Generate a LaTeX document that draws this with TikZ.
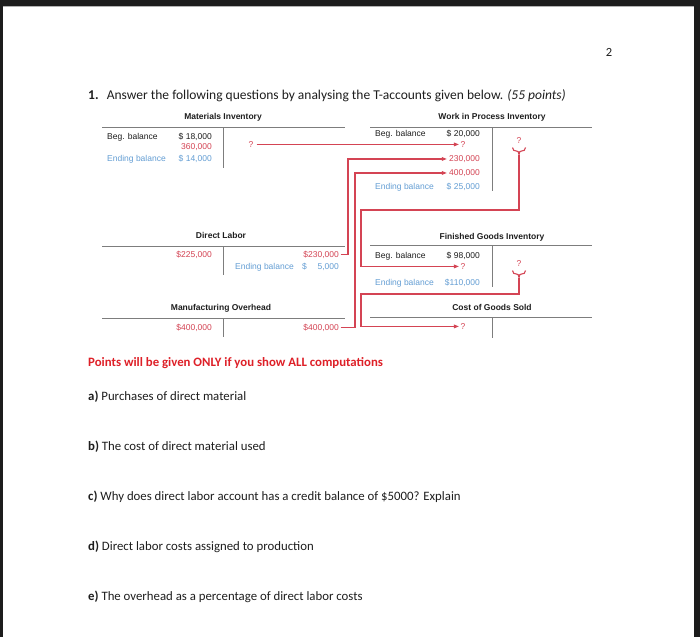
\documentclass[tikz,border=0pt]{standalone}
\usepackage{fontspec}
\setmainfont{Carlito}
\newfontfamily\hv{Liberation Sans}
\usetikzlibrary{arrows.meta}
\definecolor{accred}{RGB}{212,68,84}
\definecolor{accblue}{RGB}{100,158,212}
\definecolor{accgray}{RGB}{125,125,125}
\definecolor{txt}{RGB}{30,30,30}
\definecolor{ptsred}{RGB}{222,32,40}
\definecolor{frame}{RGB}{28,28,28}
\tikzset{
  acc/.style={inner sep=0pt, font=\hv\fontsize{8.5}{10}\selectfont, text=txt},
  acctitle/.style={acc, font=\hv\bfseries\fontsize{8.5}{10}\selectfont, anchor=mid},
  lft/.style={acc, anchor=mid west},
  rgt/.style={acc, anchor=mid east},
  rd/.style={text=accred},
  bl/.style={text=accblue},
  tline/.style={draw=accgray, line width=0.9pt},
  conn/.style={draw=accred, line width=1.1pt, -{Triangle[length=5pt,width=3.6pt]}},
  plain/.style={draw=accred, line width=1.1pt},
  qtext/.style={inner sep=0pt, anchor=mid west, font=\fontsize{12.8}{15}\selectfont, text=txt},
  bq/.style={acc, rd, anchor=mid, font=\hv\fontsize{8.5}{10}\selectfont}
}
\begin{document}
\begin{tikzpicture}[x=1pt,y=-1pt]
\useasboundingbox (0,0) rectangle (700,637);
\fill[white] (0,0) rectangle (700,637);
% frame
\fill[frame] (0,0) rectangle (700,6);
\fill[frame] (0,0) rectangle (3,637);
\fill[frame] (694,0) rectangle (700,637);
\draw[gray!60, line width=0.6pt] (3,6.5) -- (694,6.5);

% page number and header
\node[inner sep=0pt, font=\fontsize{12.5}{14}\selectfont, text=txt] (pg) at (609,52) {2};
\node[qtext, font=\fontsize{13.5}{15}\selectfont] (title) at (88,97) {\textbf{1.}\hspace{0.6em}Answer the following questions by analysing the T-accounts given below. \textit{(55 points)}};

% Materials Inventory
\node[acctitle] (mit) at (223,117) {Materials Inventory};
\draw[tline] (102,127) -- (345,127);
\draw[tline] (223,127) -- (223,168);
\node[lft] (mib) at (107,137) {Beg. balance};
\node[rgt] (mibv) at (212,137) {\$ 18,000};
\node[rgt, rd] (mip) at (212,147.5) {360,000};
\node[lft, bl] (mie) at (107,159) {Ending balance};
\node[rgt, bl] (miev) at (212,159) {\$ 14,000};
\node[acc, rd, anchor=mid] (miq) at (251,145) {?};

% Work in Process Inventory
\node[acctitle] (wipt) at (492,117) {Work in Process Inventory};
\draw[tline] (370,127) -- (592,127);
\draw[tline] (492,127) -- (492,191);
\node[lft] (wipb) at (375,134) {Beg. balance};
\node[rgt] (wipbv) at (480,134) {\$ 20,000};
\node[acc, rd, anchor=mid] (wipq) at (463,145) {?};
\node[rgt, rd] (wip230) at (480,159) {230,000};
\node[rgt, rd] (wip400) at (480,173) {400,000};
\node[lft, bl] (wipe) at (375,187) {Ending balance};
\node[rgt, bl] (wipev) at (480,187) {\$ 25,000};
\node[bq] (wbq) at (519,141.5) {?};
\coordinate (wbt) at (519,154.5);
\draw[plain] (512.5,147.5) .. controls (512.5,150.5) and (514.5,151) .. (516.5,151) .. controls (518,151) and (519,152) .. (wbt) .. controls (519,152) and (520,151) .. (521.5,151) .. controls (523.5,151) and (525.5,150.5) .. (525.5,147.5);

% Direct Labor
\node[acctitle] (dlt) at (221,236) {Direct Labor};
\draw[tline] (102,246) -- (345,246);
\draw[tline] (223,246) -- (223,275);
\node[rgt, rd] (dldr) at (212,255) {\$225,000};
\node[rgt, rd] (dlcr) at (339,255) {\$230,000};
\node[lft, bl] (dle) at (235,267) {Ending balance};
\node[lft, bl] (dled) at (302,267) {\$};
\node[rgt, bl] (dlev) at (339,267) {5,000};

% Finished Goods Inventory
\node[acctitle] (fgt) at (492,237) {Finished Goods Inventory};
\draw[tline] (370,245) -- (592,245);
\draw[tline] (492,245) -- (492,287);
\node[lft] (fgb) at (375,256) {Beg. balance};
\node[rgt] (fgbv) at (480,256) {\$ 98,000};
\node[acc, rd, anchor=mid] (fgq) at (463,267) {?};
\node[lft, bl] (fge) at (375,283) {Ending balance};
\node[rgt, bl] (fgev) at (480,283) {\$110,000};
\node[bq] (fbq) at (519,264.5) {?};
\coordinate (fbt) at (519,277.5);
\draw[plain] (512.5,270.5) .. controls (512.5,273.5) and (514.5,274) .. (516.5,274) .. controls (518,274) and (519,275) .. (fbt) .. controls (519,275) and (520,274) .. (521.5,274) .. controls (523.5,274) and (525.5,273.5) .. (525.5,270.5);

% Manufacturing Overhead
\node[acctitle] (mot) at (221,308) {Manufacturing Overhead};
\draw[tline] (102,318) -- (345,318);
\draw[tline] (223,318) -- (223,337);
\node[rgt, rd] (modr) at (212,328) {\$400,000};
\node[rgt, rd] (mocr) at (339,328) {\$400,000};

% Cost of Goods Sold
\node[acctitle] (cgt) at (492,308) {Cost of Goods Sold};
\draw[tline] (370,317) -- (592,317);
\draw[tline] (492,317) -- (492,338);
\node[acc, rd, anchor=mid] (cgq) at (463,327) {?};

% connectors
\coordinate (wbend) at (361,210);
\coordinate (fbend) at (361,294);
\draw[conn] ([xshift=3pt]miq.east) -- ([xshift=-1.5pt]miq.east -| wipq.west);
\draw[conn] ([xshift=1.5pt]dlcr.east) -- ++(7.5,0) |- ([xshift=-2pt]wip230.west);
\draw[conn] ([xshift=1.5pt]mocr.east) -- ++(14.5,0) |- ([xshift=-2pt]wip400.west);
\draw[conn] (wbt) |- (wbend) |- ([xshift=-1.5pt]fgq.west);
\draw[conn] (fbt) |- (fbend) |- ([xshift=-1.5pt]cgq.west);

% questions
\node[qtext, font=\bfseries\fontsize{12.8}{15}\selectfont, text=ptsred] (pts) at (88,364) {Points will be given ONLY if you show ALL computations};
\node[qtext] (qa) at (88,398) {\textbf{a)} Purchases of direct material};
\node[qtext] (qb) at (88,448) {\textbf{b)} The cost of direct material used};
\node[qtext] (qc) at (88,498) {\textbf{c)} Why does direct labor account has a credit balance of \$5000? Explain};
\node[qtext] (qd) at (88,548) {\textbf{d)} Direct labor costs assigned to production};
\node[qtext] (qe) at (88,598) {\textbf{e)} The overhead as a percentage of direct labor costs};
\end{tikzpicture}
\end{document}
